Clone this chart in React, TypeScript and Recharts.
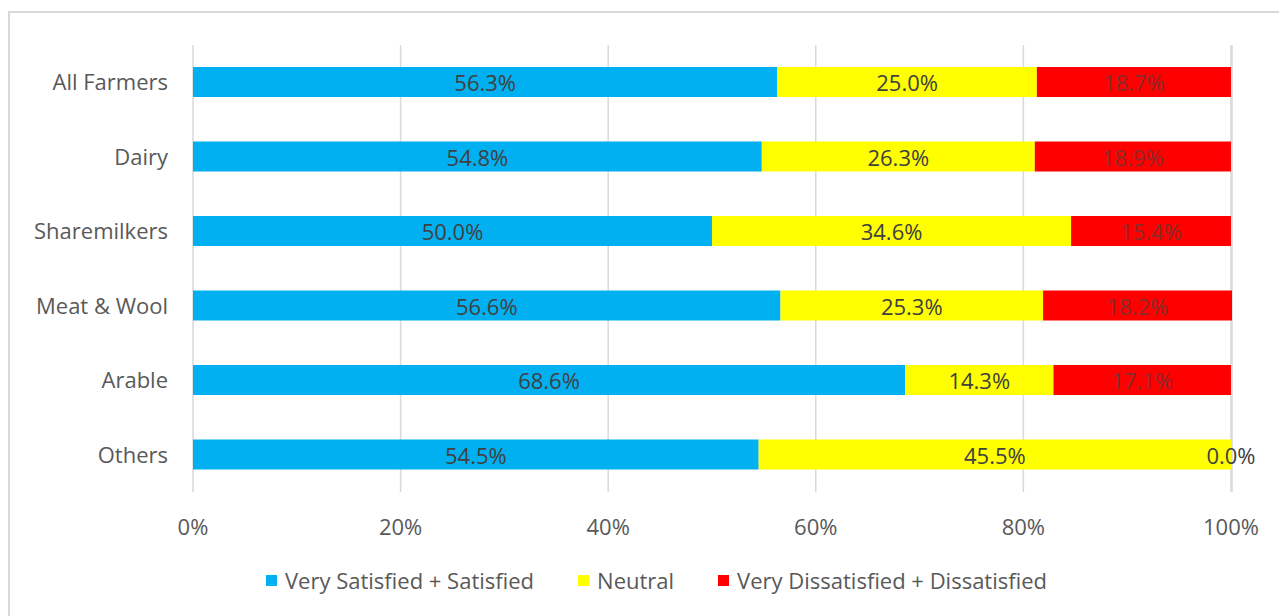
import { BarChart, Bar, XAxis, YAxis, CartesianGrid, Legend, LabelList, ReferenceDot } from "recharts";

const groups = ["All Farmers", "Dairy", "Sharemilkers", "Meat & Wool", "Arable", "Others"];
const satisfied = [56.3, 54.8, 50.0, 56.6, 68.6, 54.5];
const neutral = [25.0, 26.3, 34.6, 25.3, 14.3, 45.5];
const dissatisfied = [18.7, 18.9, 15.4, 18.2, 17.1, 0.0];
const xTicks = [0, 20, 40, 60, 80, 100];

const series = [
  { key: "satisfied", name: "Very Satisfied + Satisfied", color: "#00B0F0", text: "#404040" },
  { key: "neutral", name: "Neutral", color: "#FFFF00", text: "#404040" },
  { key: "dissatisfied", name: "Very Dissatisfied + Dissatisfied", color: "#FF0000", text: "#8a2b2b" },
];

const data = groups.map((name, i) => ({
  name,
  satisfied: satisfied[i],
  neutral: neutral[i],
  dissatisfied: dissatisfied[i],
}));

// zero-width segments get no label from the Bar, so mark them separately
const zeroLabels = data.filter((d) => d.dissatisfied === 0);

const FS = 22;

function makeLabel(color: string) {
  return (props: any) => {
    const { x, y, width, height, value } = props;
    const v = Number(value);
    return (
      <text
        x={Number(x) + Number(width) / 2}
        y={Number(y) + Number(height) / 2}
        textAnchor="middle"
        dominantBaseline="central"
        fontSize={FS}
        fill={v > 0 ? color : "#404040"}
      >
        {v.toFixed(1) + "%"}
      </text>
    );
  };
}

function ZeroLabel(props: any) {
  const { viewBox, value } = props;
  const cx = viewBox.x + (viewBox.width || 0) / 2;
  const cy = viewBox.y + (viewBox.height || 0) / 2;
  return (
    <text x={cx} y={cy} textAnchor="middle" dominantBaseline="central" fontSize={FS} fill="#404040">
      {Number(value).toFixed(1) + "%"}
    </text>
  );
}

function LegendContent() {
  return (
    <div
      style={{
        display: "flex",
        justifyContent: "center",
        gap: 44,
        fontSize: FS,
        color: "#595959",
        lineHeight: "30px",
      }}
    >
      {series.map((s) => (
        <span key={s.key} style={{ display: "flex", alignItems: "center" }}>
          <span
            style={{ width: 11, height: 11, background: s.color, marginRight: 8, display: "inline-block" }}
          />
          {s.name}
        </span>
      ))}
    </div>
  );
}

export default function App() {
  return (
    <div
      style={{
        position: "fixed",
        left: 0,
        top: 0,
        width: 1279,
        height: 616,
        background: "#fff",
        overflow: "hidden",
        fontFamily: "'Open Sans', sans-serif",
      }}
    >
      <div
        style={{
          position: "absolute",
          left: 8,
          top: 11,
          width: 1320,
          height: 700,
          border: "2px solid #d9d9d9",
        }}
      />
      <div style={{ position: "absolute", left: 0, top: 0 }}>
        <BarChart
          width={1279}
          height={616}
          data={data}
          layout="vertical"
          margin={{ top: 45, right: 47, left: 0, bottom: 21 }}
          barSize={30}
        >
          <CartesianGrid horizontal={false} stroke="#d9d9d9" strokeWidth={1.5} />
          <XAxis
            type="number"
            domain={[0, 100]}
            ticks={xTicks}
            tickFormatter={(v: number) => `${v}%`}
            axisLine={false}
            tickLine={false}
            tickSize={0}
            tickMargin={27}
            height={73}
            tick={{ fill: "#595959", fontSize: FS }}
            interval={0}
          />
          <YAxis
            type="category"
            dataKey="name"
            width={193}
            axisLine={false}
            tickLine={false}
            tickSize={0}
            tickMargin={25}
            tick={{ fill: "#595959", fontSize: FS }}
            interval={0}
          />
          <Legend
            verticalAlign="bottom"
            content={<LegendContent />}
            wrapperStyle={{ left: 34, width: 1245 }}
          />
          {series.map((s) => (
            <Bar
              key={s.key}
              dataKey={s.key}
              name={s.name}
              stackId="a"
              fill={s.color}
              isAnimationActive={false}
            >
              <LabelList dataKey={s.key} content={makeLabel(s.text)} />
            </Bar>
          ))}
          {zeroLabels.map((d) => (
            <ReferenceDot
              key={d.name}
              x={d.satisfied + d.neutral + d.dissatisfied}
              y={d.name}
              r={0}
              fill="none"
              stroke="none"
              ifOverflow="visible"
              label={<ZeroLabel value={d.dissatisfied} />}
            />
          ))}
        </BarChart>
      </div>
    </div>
  );
}
